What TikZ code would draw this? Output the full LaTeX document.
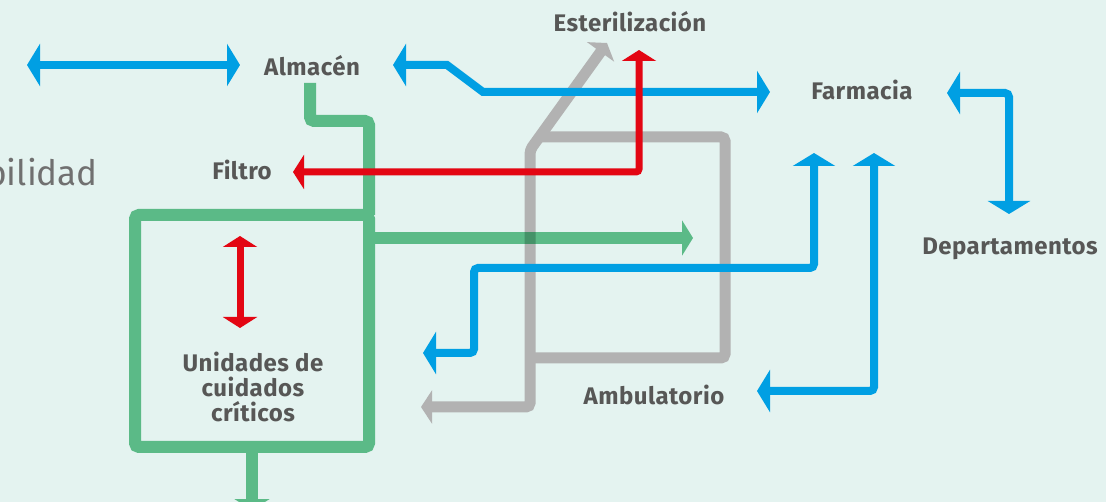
\documentclass[tikz,border=0pt]{standalone}
\usepackage{fontspec}
\setmainfont{Fira Sans}
\newfontfamily\lblfont{Fira Sans}[LetterSpace=2]
\usetikzlibrary{arrows.meta}
\definecolor{bgc}{RGB}{228,243,240}
\definecolor{bluec}{RGB}{0,159,227}
\definecolor{redc}{RGB}{227,6,19}
\definecolor{greenc}{RGB}{91,186,135}
\definecolor{darkgreenc}{RGB}{68,146,104}
\definecolor{grayc}{RGB}{178,178,178}
\definecolor{txtc}{RGB}{87,87,86}
\definecolor{faintc}{RGB}{112,112,112}
\tikzset{
  lbl/.style={font=\lblfont\bfseries\fontsize{24}{25}\selectfont, text=txtc, inner sep=0pt, align=center},
  bluel/.style={draw=bluec, line width=8pt, rounded corners=4pt},
  redl/.style={draw=redc, line width=7pt, rounded corners=3pt},
  greenl/.style={draw=greenc, line width=12pt, rounded corners=4pt},
  grayl/.style={draw=grayc, line width=11pt, rounded corners=4pt},
  bh/.tip={Triangle[length=13pt,width=42pt]},
  gh/.tip={Triangle[length=11pt,width=35pt]},
  rh/.tip={Triangle[length=11pt,width=34pt]},
  yh/.tip={Triangle[length=11pt,width=33pt]},
}
\begin{document}
\begin{tikzpicture}[x=1pt,y=-1pt]
\fill[bgc] (0,0) rectangle (1106,502);
\useasboundingbox (0,0) rectangle (1106,502);
\begin{scope}
\clip (0,0) rectangle (1106,502);
% labels
\node[lbl] (alm) at (312,66) {Almacén};
\node[lbl] (est) at (630,22) {Esterilización};
\node[lbl] (far) at (862,90) {Farmacia};
\node[lbl] (fil) at (242,170) {Filtro};
\node[lbl] (dep) at (1010,249) {Departamentos};
\node[lbl] (amb) at (654,395) {Ambulatorio};
\node[lbl] (uci) at (253,387) {Unidades de\\cuidados\\críticos};
\node[font=\fontsize{35}{40}\selectfont, text=faintc, inner sep=0pt, anchor=base east] (bil) at (98,186) {bilidad};
% coordinates
\coordinate (ga1) at (421,407);
\coordinate (ga2) at (530,407);
\coordinate (ga3) at (530,150);
\coordinate (ga4) at (607,43);
\coordinate (gb1) at (539,137);
\coordinate (gb2) at (725,137);
\coordinate (gb3) at (725,358);
\coordinate (gb4) at (530,358);
% gray
\draw[grayl, {yh}-{yh}] (ga1) -- (ga2) -- (ga3) -- (ga4);
\draw[grayl] (gb1) -- (gb2) -- (gb3) -- (gb4);
% green
\coordinate (n1) at (310,83);
\coordinate (n2) at (310,121);
\coordinate (n3) at (369,121);
\coordinate (b1) at (369,215);
\coordinate (b2) at (135,215);
\coordinate (b3) at (135,447);
\coordinate (b4) at (369,447);
\coordinate (m1) at (369,238);
\coordinate (m2) at (693,238);
\coordinate (d1) at (252,447);
\coordinate (d2) at (252,510);
\draw[greenl] (n1) -- (n2) -- (n3) -- (b1);
\draw[greenl] (b1) -- (b2) -- (b3) -- (b4) -- cycle;
\draw[greenl, -{gh}, rounded corners=0pt] (d1) -- (d2);
\draw[greenl, -{gh}, rounded corners=0pt] (m1) -- (m2);
\begin{scope}
\clip (524.5,200) rectangle (535.5,280);
\draw[greenl, draw=darkgreenc, rounded corners=0pt] (m1) -- (m2);
\end{scope}
% blue
\coordinate (t1) at (27,65);
\coordinate (t2) at (240,65);
\draw[bluel, {bh}-{bh}] (t1) -- (t2);
\coordinate (f1) at (393,65);
\coordinate (f2) at (447,65);
\coordinate (f3) at (483,92);
\coordinate (f4) at (770,92);
\draw[bluel, {bh}-{bh}, rounded corners=0pt] (f1) -- (f2) -- (f3) -- (f4);
\coordinate (p1) at (947,93);
\coordinate (p2) at (1009,93);
\coordinate (p3) at (1009,214);
\draw[bluel, {bh}-{bh}] (p1) -- (p2) -- (p3);
\coordinate (q1) at (423,353);
\coordinate (q2) at (474,353);
\coordinate (q3) at (474,268);
\coordinate (q4) at (814,268);
\coordinate (q5) at (814,153);
\draw[bluel, {bh}-{bh}] (q1) -- (q2) -- (q3) -- (q4) -- (q5);
\coordinate (r1) at (757,391);
\coordinate (r2) at (874,391);
\coordinate (r3) at (874,153);
\draw[bluel, {bh}-{bh}] (r1) -- (r2) -- (r3);
% red
\coordinate (s1) at (293,172);
\coordinate (s2) at (639,172);
\coordinate (s3) at (639,50);
\draw[redl, {rh}-{rh}] (s1) -- (s2) -- (s3);
\coordinate (u1) at (240,236);
\coordinate (u2) at (240,328);
\draw[redl, {rh}-{rh}] (u1) -- (u2);
\end{scope}
\end{tikzpicture}
\end{document}
